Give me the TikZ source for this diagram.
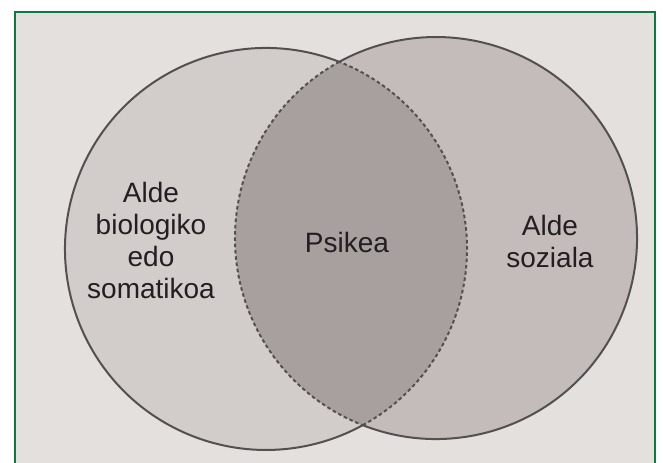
\documentclass[tikz,border=0pt]{standalone}
\usepackage{fontspec}
\setmainfont{Liberation Sans}
\definecolor{bgin}{HTML}{E3E0DE}
\definecolor{leftc}{HTML}{D2CCCA}
\definecolor{rightc}{HTML}{C3BCBA}
\definecolor{midc}{HTML}{A8A09F}
\definecolor{edge}{HTML}{545050}
\definecolor{frameg}{HTML}{0B7A3E}
\definecolor{txt}{HTML}{231F20}
\tikzset{
  outline/.style={draw=edge, line width=2bp},
  dashline/.style={draw=edge, line width=2bp, dash pattern=on 3.5bp off 2.8bp},
  lbl/.style={text=txt, font=\fontsize{28bp}{32bp}\selectfont, align=center, inner sep=0pt}
}
\begin{document}
\begin{tikzpicture}[x=1bp,y=1bp]
\useasboundingbox (0,0) rectangle (663,-463);
\fill[white] (0,0) rectangle (663,-463);
\begin{scope}
\clip (0,0) rectangle (663,-463);
\fill[bgin] (15,-12) rectangle (655,-480);
\draw[frameg, line width=2.5bp] (15,-12) rectangle (655,-480);
\end{scope}
\coordinate (L) at (266,-249);
\coordinate (R) at (436,-238);
\coordinate (P1) at (339.24,-61.82);
\coordinate (P2) at (362.76,-425.18);
\fill[leftc] (L) circle[radius=201];
\fill[rightc] (R) circle[radius=201];
\begin{scope}
\clip (L) circle[radius=201];
\fill[midc] (R) circle[radius=201];
\end{scope}
% solid outer arcs
\draw[outline] (P1) arc[start angle=68.63, end angle=298.78, radius=201];
\draw[outline] (P2) arc[start angle=248.63, end angle=478.78, radius=201];
% dashed inner arcs
\draw[dashline] (P2) arc[start angle=-61.22, end angle=68.63, radius=201];
\draw[dashline] (P1) arc[start angle=118.78, end angle=248.63, radius=201];
\node[lbl] (bio) at (151,-240) {Alde\\biologiko\\edo\\somatikoa};
\node[lbl] (psi) at (347,-242) {Psikea};
\node[lbl] (soz) at (550,-241.5) {Alde\\soziala};
\end{tikzpicture}
\end{document}
